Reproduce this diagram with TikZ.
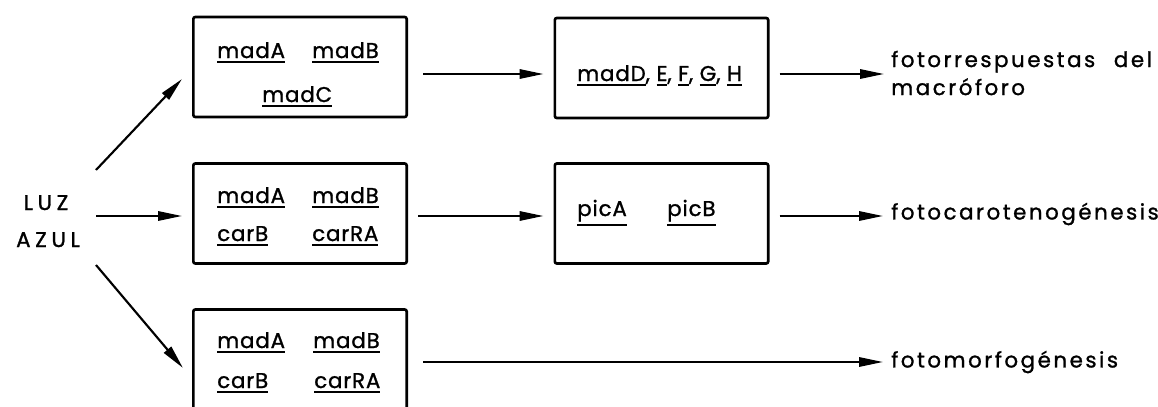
\documentclass[tikz,border=0pt]{standalone}
\usepackage{fontspec}
\setmainfont{Poppins}[LetterSpace=4,FakeBold=1.2]
\usetikzlibrary{arrows.meta,positioning}
\newcommand{\gen}[1]{\vtop{\hbox{#1}\kern2.2pt\hrule height 1.4pt}}

\begin{document}
\begin{tikzpicture}[x=0.75pt,y=-0.75pt,font=\fontsize{16}{21}\selectfont,
    box/.style={draw,line width=2pt,rounded corners=1.5pt,
      minimum width=160pt,minimum height=75pt},
    gene/.style={inner sep=0pt,anchor=base west},
    outcome/.style={inner sep=0pt,anchor=west,align=left,
      font=\fontsize{16}{21}\selectfont\addfontfeature{LetterSpace=12}},
    light/.style={inner sep=0pt,anchor=base,
      font=\fontsize{16}{21}\selectfont\addfontfeature{LetterSpace=22}},
    arrow/.style={line width=1.6pt,-{Triangle[length=18pt,width=7pt]}}]
  \useasboundingbox (0,0) rectangle (1158,407);
  \clip (0,0) rectangle (1158,407);
  % loci boxes
  \node[box] (loc1) at (300,67) {};
  \node[box] (loc2) at (300,213.5) {};
  \node[box] (loc3) at (300,359.5) {};
  \node[box] (loc4) at (661.5,68) {};
  \node[box] (loc5) at (661.5,213.5) {};
  % genes
  \node[gene] (g1a) at (217,58) {\gen{madA}};
  \node[gene] (g1b) at (312,58) {\gen{madB}};
  \node[gene] (g1c) at (262,102) {\gen{madC}};
  \node[gene] (g2a) at (217,203) {\gen{madA}};
  \node[gene] (g2b) at (312,203) {\gen{madB}};
  \node[gene] (g2c) at (217,241) {\gen{carB}};
  \node[gene] (g2d) at (312,241) {\gen{carRA}};
  \node[gene] (g3a) at (217,348) {\gen{madA}};
  \node[gene] (g3b) at (313,348) {\gen{madB}};
  \node[gene] (g3c) at (217,388) {\gen{carB}};
  \node[gene] (g3d) at (314,388) {\gen{carRA}};
  \node[gene] (g4a) at (577,81) {\gen{madD}, \gen{E}, \gen{F}, \gen{G}, \gen{H}};
  \node[gene] (g5a) at (577,216) {\gen{picA}};
  \node[gene] (g5b) at (667,216) {\gen{picB}};
  % light and responses
  \node[light] (luz) at (46,210) {LUZ};
  \node[light] (azul) at (48,247) {AZUL};
  \coordinate (fork) at (96,216);
  \node[outcome] (resp) at (891,73) {fotorrespuestas\hspace{14pt}del\\macróforo};
  \node[outcome] (caro) at (891,214) {fotocarotenogénesis};
  \node[outcome] (morfo) at (891,362) {fotomorfogénesis};
  % arrows
  \draw[arrow] ([shift={(0,-46)}]fork) -- ([shift={(-10,12)}]loc1.west);
  \draw[arrow] (fork) -- ([shift={(-10,2.5)}]loc2.west);
  \draw[arrow] ([shift={(0,49)}]fork) -- ([shift={(-9,8.5)}]loc3.west);
  \draw[arrow] ([shift={(15,7)}]loc1.east) -- ([shift={(-10,6)}]loc4.west);
  \draw[arrow] ([shift={(10,2.5)}]loc2.east) -- ([shift={(-10,2.5)}]loc5.west);
  \draw[arrow] ([shift={(10,6)}]loc4.east) -- ([shift={(-7,6)}]resp.west |- loc4.east);
  \draw[arrow] ([shift={(10,2.5)}]loc5.east) -- ([shift={(-8,2.5)}]caro.west |- loc5.east);
  \draw[arrow] ([shift={(15,2.5)}]loc3.east) -- ([shift={(-8,2.5)}]morfo.west |- loc3.east);
\end{tikzpicture}
\end{document}
